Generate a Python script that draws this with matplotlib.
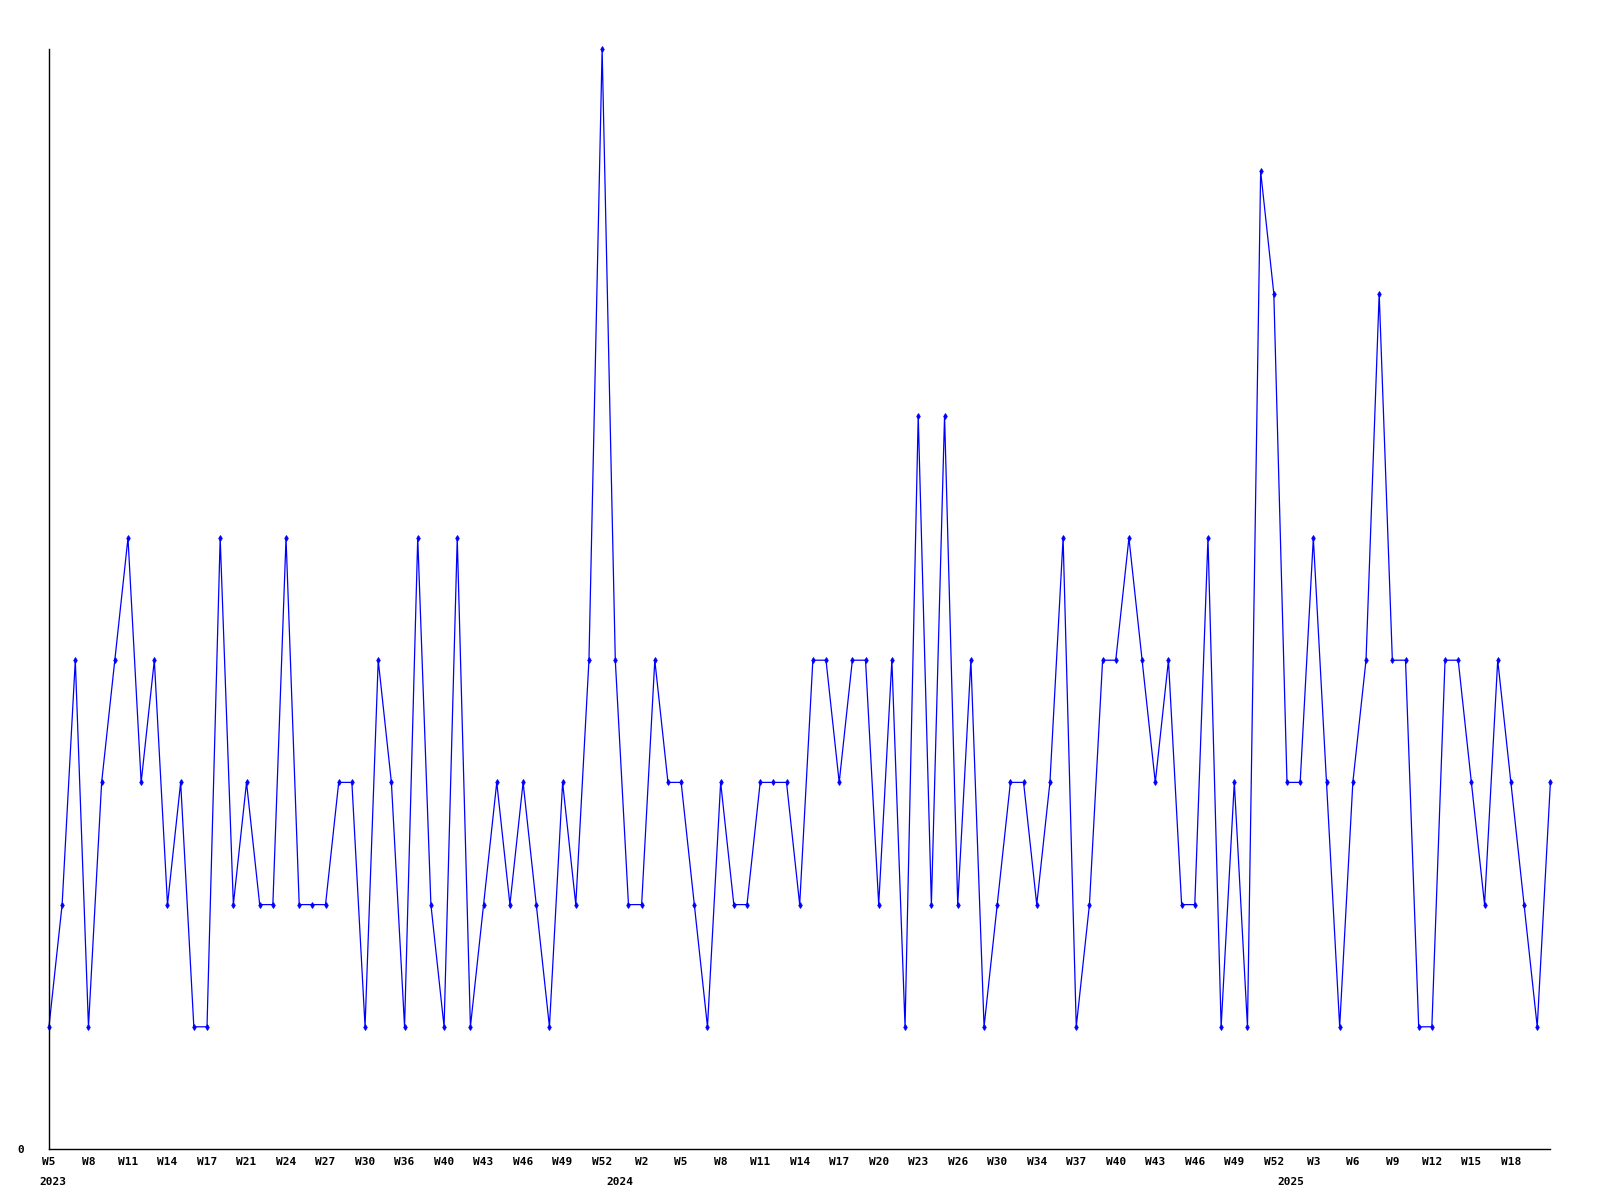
import matplotlib
matplotlib.use("Agg")
import matplotlib.pyplot as plt

# weekly counts, one value per point (2023 W5 .. 2025)
counts = [1, 2, 4, 1, 3, 4, 5, 3, 4, 2, 3, 1, 1, 5, 2, 3, 2, 2, 5, 2,
          2, 2, 3, 3, 1, 4, 3, 1, 5, 2, 1, 5, 1, 2, 3, 2, 3, 2, 1, 3,
          2, 4, 9, 4, 2, 2, 4, 3, 3, 2, 1, 3, 2, 2, 3, 3, 3, 2, 4, 4,
          3, 4, 4, 2, 4, 1, 6, 2, 6, 2, 4, 1, 2, 3, 3, 2, 3, 5, 1, 2,
          4, 4, 5, 4, 3, 4, 2, 2, 5, 1, 3, 1, 8, 7, 3, 3, 5, 3, 1, 3,
          4, 7, 4, 4, 1, 1, 4, 4, 3, 2, 4, 3, 2, 1, 3]

# labels shown on every third point
tick_labels = ['W5', 'W8', 'W11', 'W14', 'W17', 'W21', 'W24', 'W27', 'W30', 'W36',
               'W40', 'W43', 'W46', 'W49', 'W52',
               'W2', 'W5', 'W8', 'W11', 'W14', 'W17', 'W20', 'W23', 'W26', 'W30',
               'W34', 'W37', 'W40', 'W43', 'W46', 'W49', 'W52',
               'W3', 'W6', 'W9', 'W12', 'W15', 'W18']
tick_step = 3

years = ['2023', '2024', '2025']
year_start = [0, 43, 94]  # index of first point of each year

x = list(range(len(counts)))

fig = plt.figure(figsize=(16, 12), dpi=100)
ax = fig.add_axes([0.0306, 0.0425, 0.9384, 0.9165])

ax.plot(x, counts, color='#0000ff', linewidth=0.9, marker='d', markersize=3,
        markeredgewidth=0.6, clip_on=False)

ax.set_xlim(0, len(counts) - 1)
ax.set_ylim(0, max(counts))

font = dict(family='DejaVu Sans Mono', weight='bold', size=8)

ax.set_xticks(x[::tick_step][:len(tick_labels)])
ax.set_xticklabels(tick_labels, **font)
ax.set_yticks([0])
ax.set_yticklabels(['0'], **font)
ax.tick_params(axis='both', length=0)
ax.tick_params(axis='x', pad=6)
ax.tick_params(axis='y', pad=18)

for yr, i in zip(years, year_start):
    ax.annotate(yr, xy=(i, 0), xycoords=('data', 'axes fraction'),
                xytext=(3, -20), textcoords='offset points',
                ha='center', va='top', **font)

ax.spines['top'].set_visible(False)
ax.spines['right'].set_visible(False)
ax.spines['left'].set_linewidth(1)
ax.spines['bottom'].set_linewidth(1)

fig.savefig('out.png', dpi=100)
